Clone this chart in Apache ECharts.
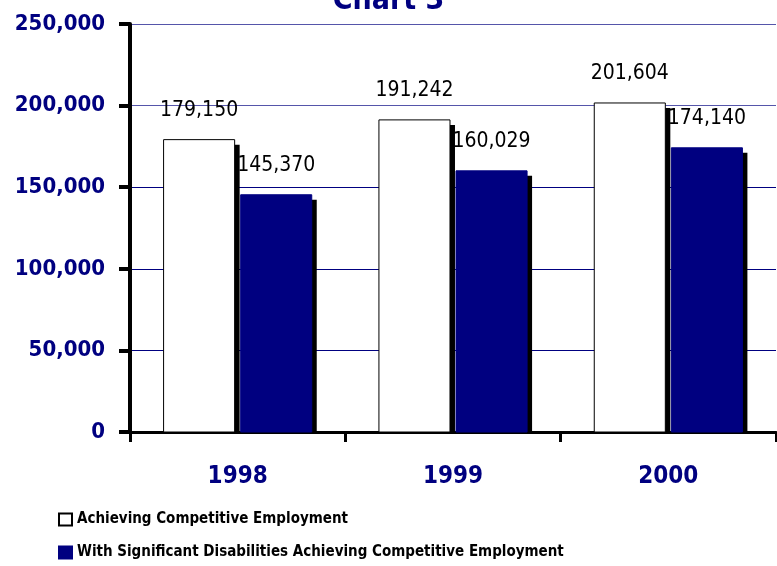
<!DOCTYPE html>
<html>
<head>
<meta charset="utf-8">
<script src="https://cdn.jsdelivr.net/npm/echarts@6/dist/echarts.min.js"></script>
<style>
  html, body { margin: 0; padding: 0; background: #fff; }
  #chart { width: 777px; height: 566px; }
</style>
</head>
<body>
<div id="chart"></div>
<script>
const years = ['1998', '1999', '2000'];
const allAchieving = [179150, 191242, 201604];
const significantDisab = [145370, 160029, 174140];
const seriesNames = [
  'Achieving Competitive Employment',
  'With Significant Disabilities Achieving Competitive Employment'
];

const FONT = '"Liberation Sans Narrow", "Arial Narrow", "DejaVu Sans Condensed", sans-serif';
const NAVY = '#000080';

const fmt = v => v.toLocaleString('en-US');

// bar with a hard black drop shadow to the right, clipped at the axis
function makeSeries(name, values, side, fill, stroke) {
  return {
    name: name,
    type: 'custom',
    data: values.map((v, i) => [i, v]),
    itemStyle: { color: fill, borderColor: stroke, borderWidth: 1 },
    renderItem: function (params, api) {
      const idx = api.value(0);
      const val = api.value(1);
      const base = api.coord([idx, 0]);
      const top = api.coord([idx, val]);
      const band = api.size([1, 0])[0];
      const w = band * 0.33;
      const gap = band * 0.028;
      const cx = base[0] + side * (w + gap) / 2;
      const x = cx - w / 2;
      const h = base[1] - top[1];
      return {
        type: 'group',
        children: [
          {
            type: 'rect',
            shape: { x: x + 5, y: top[1] + 5, width: w, height: h - 5 },
            style: { fill: '#000' }
          },
          {
            type: 'rect',
            shape: { x: x, y: top[1], width: w, height: h },
            style: { fill: fill, stroke: stroke, lineWidth: 1 }
          },
          {
            type: 'text',
            style: {
              x: cx,
              y: top[1] - 29,
              text: fmt(val),
              align: 'center',
              verticalAlign: 'middle',
              fontFamily: FONT,
              fontSize: 21,
              fill: '#000'
            }
          }
        ]
      };
    }
  };
}

const chart = echarts.init(document.getElementById('chart'));
chart.setOption({
  animation: false,
  backgroundColor: '#fff',
  title: {
    text: 'Chart 3',
    left: 'center',
    top: -19,
    textStyle: { fontFamily: FONT, fontSize: 30, fontWeight: 'bold', color: NAVY }
  },
  legend: {
    orient: 'vertical',
    left: 58,
    top: 512,
    padding: 0,
    itemWidth: 13,
    itemHeight: 12,
    itemGap: 18,
    icon: 'rect',
    data: seriesNames,
    textStyle: { fontFamily: FONT, fontSize: 15, fontWeight: 'bold', color: '#000' }
  },
  grid: { left: 130, right: 1, top: 24, bottom: 134 },
  xAxis: {
    type: 'category',
    data: years,
    boundaryGap: true,
    axisLine: { lineStyle: { color: '#000', width: 3 } },
    axisTick: { show: true, interval: 0, length: 10, lineStyle: { color: '#000', width: 3 } },
    axisLabel: {
      margin: 33,
      fontFamily: FONT,
      fontSize: 24,
      fontWeight: 'bold',
      color: NAVY
    }
  },
  yAxis: {
    type: 'value',
    min: 0,
    max: 250000,
    interval: 50000,
    axisLine: { show: true, lineStyle: { color: '#000', width: 4 } },
    axisTick: { show: true, length: 11, lineStyle: { color: '#000', width: 4 } },
    axisLabel: {
      margin: 25,
      fontFamily: FONT,
      fontSize: 22,
      fontWeight: 'bold',
      color: NAVY,
      formatter: v => fmt(v)
    },
    splitLine: {
      show: true,
      lineStyle: {
        width: 1,
        color: [NAVY, NAVY, NAVY, NAVY, '#5555aa', '#5555aa']
      }
    }
  },
  series: [
    makeSeries(seriesNames[0], allAchieving, -1, '#fff', '#000'),
    makeSeries(seriesNames[1], significantDisab, 1, NAVY, NAVY)
  ]
});
</script>
</body>
</html>
